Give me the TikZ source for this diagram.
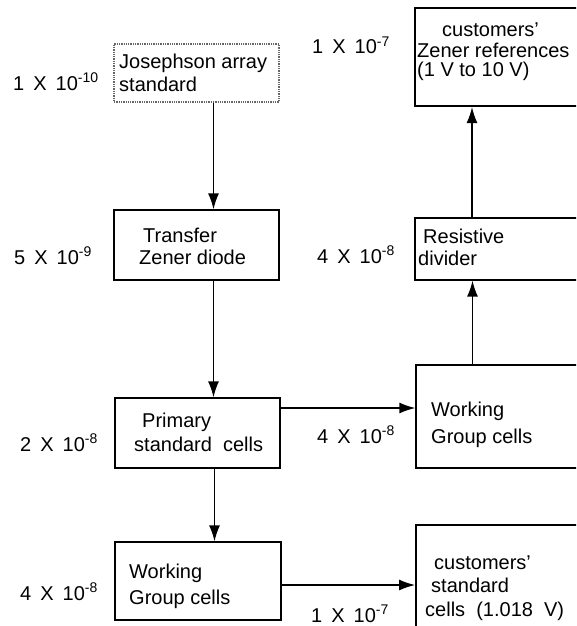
\documentclass[tikz,border=0pt]{standalone}
\usepackage{fontspec}
\setmainfont{Liberation Sans}
\usetikzlibrary{calc,arrows.meta}

\newcommand{\uncert}[2]{#1\hspace{.45em}X\hspace{.45em}10\textsuperscript{#2}}

\begin{document}
\begin{tikzpicture}[x=1pt,y=-1pt,
    box/.style={draw,line width=1.3pt,inner sep=0pt},
    txt/.style={anchor=base west,align=left,inner sep=0pt,font=\fontsize{20}{22}\selectfont},
    unc/.style={anchor=base west,inner sep=0pt,font=\fontsize{20}{22}\selectfont},
    arr/.style={-{Latex[length=16pt,width=11pt]},line width=1.4pt}]
  \useasboundingbox(0,0)rectangle(576,626);
  \clip(0,0)rectangle(576,626);
  % left column
  \node[box,densely dotted,draw=black!60,minimum width=165pt,minimum height=58pt](jos)at(196.5,73){};
  \node[box,minimum width=165pt,minimum height=70pt](trans)at(196.5,245){};
  \node[box,minimum width=165pt,minimum height=70pt](prim)at(197.5,433){};
  \node[box,minimum width=166pt,minimum height=78pt](wgl)at(198,581){};
  % right column, running off the page
  \node[box,line width=2.2pt,minimum width=180pt,minimum height=98pt](zen)at(505,57){};
  \node[box,minimum width=180pt,minimum height=62pt](res)at(505,249){};
  \node[box,minimum width=179pt,minimum height=103pt](wgr)at(505.5,416.5){};
  \node[box,line width=1.8pt,minimum width=179pt,minimum height=135pt](cst)at(505.5,592.5){};
  % box texts (placed by the baseline of the last line)
  \node[txt](josT)at(119,91){Josephson array\\[1pt]standard};
  \node[txt](transT)at(139,264){\hspace{4pt}Transfer\\Zener diode};
  \node[txt](primT)at(134,451){\hspace{8pt}Primary\\[2pt]standard\ \ cells};
  \node[txt](wglT)at(129,604){Working\\[4pt]Group cells};
  \node[txt](zenT)at(417,77){\hspace{25pt}customers'\\[-2pt]Zener references\\[-2pt](1 V to 10 V)};
  \node[txt](resT)at(418,265){\hspace{5pt}Resistive\\divider};
  \node[txt](wgrT)at(431,443){Working\\[5pt]Group cells};
  \node[txt](cstT)at(425,616){\hspace{9pt}customers'\\[1pt]\hspace{6pt}standard\\[2pt]cells\ \ (1.018\ \ V)};
  % uncertainties
  \node[unc](u1)at(13,90){\uncert{1}{-10}};
  \node[unc](u2)at(312,54){\uncert{1}{-7}};
  \node[unc](u3)at(14,264){\uncert{5}{-9}};
  \node[unc](u4)at(317,263){\uncert{4}{-8}};
  \node[unc](u5)at(20,451){\uncert{2}{-8}};
  \node[unc](u6)at(317,443){\uncert{4}{-8}};
  \node[unc](u7)at(20,600){\uncert{4}{-8}};
  \node[unc](u8)at(311,622){\uncert{1}{-7}};
  % connectors
  \draw[arr]([xshift=17pt]jos.south)--([xshift=17pt]jos.south|-trans.north);
  \draw[arr]([xshift=17pt]trans.south)--([xshift=17pt]trans.south|-prim.north);
  \draw[arr]([xshift=17pt]prim.south)--([xshift=17pt]prim.south|-wgl.north);
  \draw[arr]([yshift=25pt]prim.east)--([yshift=25pt]prim.east-|wgr.west);
  \draw[arr]([yshift=-4pt]wgl.east)--([yshift=-4pt]wgl.east-|cst.west);
  \draw[arr]([xshift=-33pt]wgr.north)--([xshift=-33pt]wgr.north|-res.south);
  \draw[arr]([xshift=-33pt]res.north)--([xshift=-33pt]res.north|-zen.south);
\end{tikzpicture}
\end{document}
